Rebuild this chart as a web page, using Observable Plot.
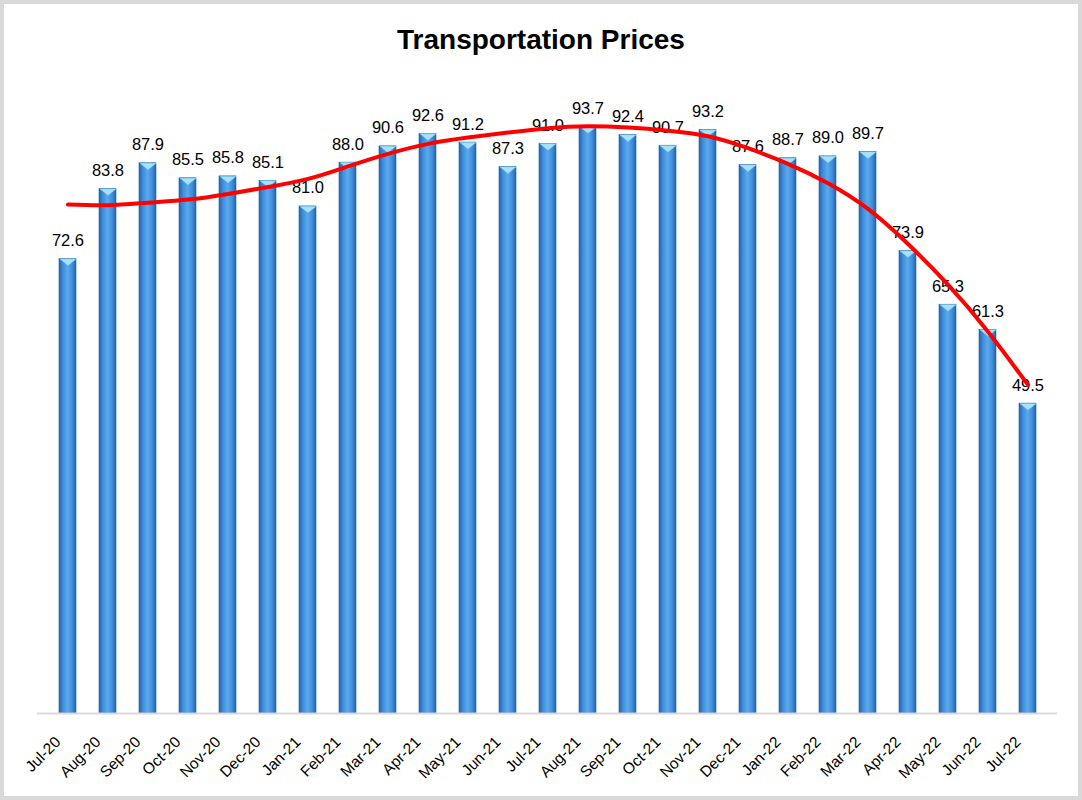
<!DOCTYPE html>
<html>
<head>
<meta charset="utf-8">
<script src="https://cdn.jsdelivr.net/npm/d3@7"></script>
<script src="https://cdn.jsdelivr.net/npm/@observablehq/plot@0.6"></script>
<style>
  html, body { margin: 0; padding: 0; background: #fff; }
  #wrap { position: relative; width: 1082px; height: 800px; overflow: hidden; background: #fff; }
  #title { position: absolute; left: 0; top: 0; width: 1082px; height: 70px; text-align: center;
           font-family: "Liberation Sans", Arial, sans-serif; font-weight: bold; font-size: 28px;
           line-height: 1; padding-top: 26px; box-sizing: border-box; color: #000; }
  #chart { position: absolute; left: 0; top: 70px; }
  #frame { position: absolute; left: 0; top: 0; width: 1082px; height: 800px; box-sizing: border-box;
           border: 4px solid #d9d9d9; pointer-events: none; }
</style>
</head>
<body>
<div id="wrap">
  <div id="title">Transportation Prices</div>
  <div id="chart"></div>
  <div id="frame"></div>
</div>
<script>
const months = ["Jul-20","Aug-20","Sep-20","Oct-20","Nov-20","Dec-20","Jan-21","Feb-21","Mar-21","Apr-21","May-21","Jun-21","Jul-21","Aug-21","Sep-21","Oct-21","Nov-21","Dec-21","Jan-22","Feb-22","Mar-22","Apr-22","May-22","Jun-22","Jul-22"];
const values = [72.6,83.8,87.9,85.5,85.8,85.1,81.0,88.0,90.6,92.6,91.2,87.3,91.0,93.7,92.4,90.7,93.2,87.6,88.7,89.0,89.7,73.9,65.3,61.3,49.5];
// trendline
const trend = [81.3,81.2,81.6,82.1,83.0,84.1,85.4,87.4,89.4,91.0,92.0,92.8,93.5,93.8,93.6,93.1,92.2,90.3,87.8,84.7,80.6,75.0,68.5,61.0,52.5];

const data = months.map((m, i) => ({month: m, value: values[i], trend: trend[i]}));

const capSymbol = {
  draw(context, size) {
    const r = Math.sqrt(size / Math.PI);
    context.moveTo(-r, 0);
    context.lineTo(r, 0);
    context.lineTo(0, r * 0.8);
    context.closePath();
  }
};

const chart = Plot.plot({
  width: 1082,
  height: 730,
  marginTop: 17,
  marginBottom: 87,
  marginLeft: 37,
  marginRight: 25,
  style: {fontFamily: "Liberation Sans, Arial, sans-serif", fontSize: "15.5px", color: "#000", background: "transparent"},
  x: {domain: months, paddingInner: 0.58, paddingOuter: 0.29, label: null},
  y: {domain: [0, 100], axis: null},
  marks: [
    Plot.barY(data, {x: "month", y: "value", fill: "url(#barGrad)", stroke: "#2a64a6", strokeWidth: 0.6}),
    Plot.dot(data, {x: "month", y: "value", symbol: capSymbol, r: 8, fill: "#a6e2fb", stroke: "#86d0f5", strokeWidth: 0.5}),
    Plot.ruleY([0], {stroke: "#d9d9d9", strokeWidth: 2}),
    Plot.text(data, {x: "month", y: "value", text: d => d.value.toFixed(1), dy: -13, lineAnchor: "bottom", fontSize: 16.5, fill: "#000"}),
    Plot.line(data, {x: "month", y: "trend", stroke: "#ff0000", strokeWidth: 4, curve: "natural"}),
    Plot.axisX({tickRotate: -45, tickSize: 0, tickPadding: 12, dx: -10, dy: 14, label: null, fill: "#000"})
  ]
});

d3.select(chart).insert("defs", ":first-child").html(`
  <linearGradient id="barGrad" x1="0" x2="1" y1="0" y2="0">
    <stop offset="0%" stop-color="#25609f"/>
    <stop offset="18%" stop-color="#3a88d6"/>
    <stop offset="50%" stop-color="#5aa9ee"/>
    <stop offset="82%" stop-color="#3a88d6"/>
    <stop offset="100%" stop-color="#25609f"/>
  </linearGradient>`);

document.getElementById("chart").appendChild(chart);
</script>
</body>
</html>
